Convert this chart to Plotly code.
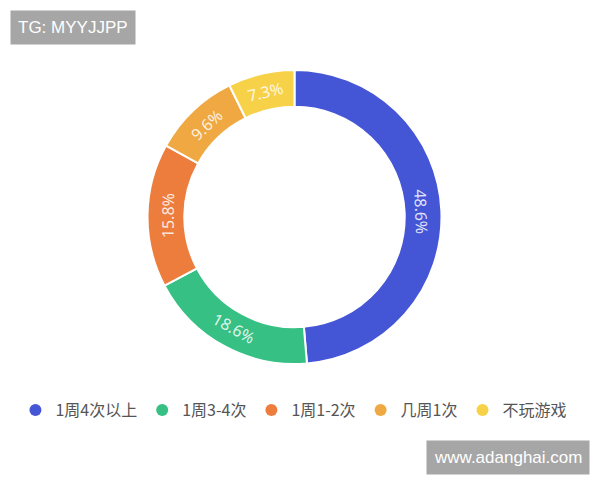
import plotly.graph_objects as go

labels = ["1周4次以上", "1周3-4次", "1周1-2次", "几周1次", "不玩游戏"]
values = [48.6, 18.6, 15.8, 9.6, 7.3]
colors = ["#4455d6", "#36c084", "#ec7d3c", "#efa842", "#f7d147"]

# page body has an 8px margin, so the figure is drawn 8px smaller
W, H = 592, 472

fig = go.Figure()

fig.add_trace(go.Pie(
    labels=labels,
    values=values,
    hole=0.75,
    sort=False,
    direction="clockwise",
    rotation=0,
    marker=dict(colors=colors, line=dict(color="white", width=2)),
    texttemplate="%{value}%",
    textposition="inside",
    insidetextorientation="tangential",
    textfont=dict(family="Noto Sans", size=16, color="rgba(255,255,255,0.85)"),
    showlegend=False,
    domain=dict(x=[0.2348, 0.7331], y=[0.2458, 0.8686]),
))

# dummy scatter traces so the legend gets round markers
for lab, col in zip(labels, colors):
    fig.add_trace(go.Scatter(
        x=[None], y=[None], mode="markers", name=lab,
        marker=dict(symbol="circle", size=14, color=col),
    ))

fig.update_layout(
    width=W,
    height=H,
    margin=dict(l=0, r=0, t=0, b=0),
    paper_bgcolor="white",
    plot_bgcolor="white",
    xaxis=dict(visible=False),
    yaxis=dict(visible=False),
    font=dict(family="Noto Sans CJK SC", size=14, color="#555555"),
    legend=dict(
        orientation="h",
        x=0.483, xanchor="center",
        y=0.148, yanchor="middle",
        font=dict(family="Noto Sans CJK SC", size=16, color="#555555"),
        itemsizing="constant",
        itemwidth=30,
    ),
    annotations=[
        dict(text="TG: MYYJJPP", x=0.0034, y=0.9958, xref="paper", yref="paper",
             xanchor="left", yanchor="top", showarrow=False,
             bgcolor="#a6a6a6", borderpad=7,
             font=dict(family="Liberation Sans", size=17, color="white")),
        dict(text="www.adanghai.com", x=0.9831, y=0.0847, xref="paper", yref="paper",
             xanchor="right", yanchor="top", showarrow=False,
             bgcolor="#a6a6a6", borderpad=7,
             font=dict(family="Liberation Sans", size=17, color="white")),
    ],
)

fig.write_html("out.html")
